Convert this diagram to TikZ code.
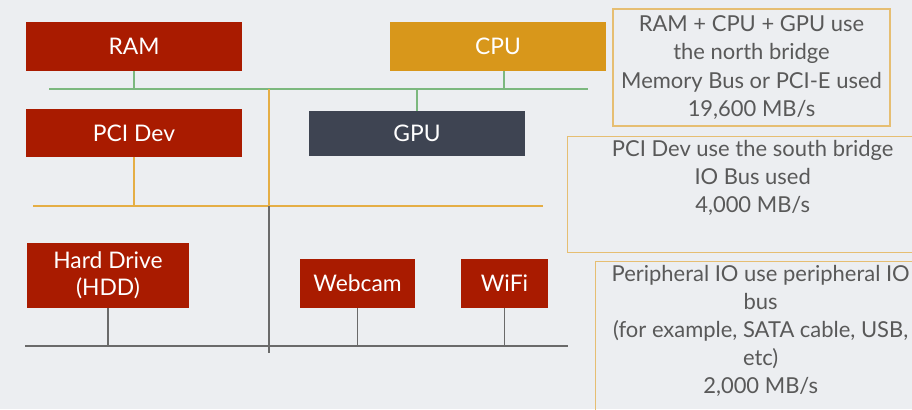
\documentclass[tikz,border=0pt]{standalone}
\usepackage{fontspec}
\setmainfont{Lato}
\usepackage{xcolor}
\usepackage{tikz}
\usetikzlibrary{positioning, calc}

\definecolor{slidebg}{HTML}{ECEEF1}
\definecolor{boxred}{HTML}{A91B00}
\definecolor{cpugold}{HTML}{D8971B}
\definecolor{gpuslate}{HTML}{3E4452}
\definecolor{busgreen}{HTML}{7CB87E}
\definecolor{busorange}{HTML}{E5AE45}
\definecolor{busgray}{HTML}{6A6A6A}
\definecolor{notegold}{HTML}{E6BE72}
\definecolor{notegray}{HTML}{595959}

\begin{document}
\begin{tikzpicture}[
    x=0.02cm, y=-0.02cm,
    box/.style={fill=boxred,text=white,minimum width=4.32cm,
                minimum height=0.98cm,align=center,inner sep=0pt,
                font=\fontsize{13}{15.5}\selectfont},
    northbus/.style={draw=busgreen,line width=1.1pt},
    southbus/.style={draw=busorange,line width=1.1pt},
    periphbus/.style={draw=busgray,line width=1.1pt},
    note/.style={draw=notegold,line width=0.8pt,inner sep=0pt},
    notetext/.style={align=center,text=notegray,inner sep=0pt,
                     font=\fontsize{12.5}{16}\selectfont}
  ]
    \clip (0,0) rectangle (912,409);
    \fill[slidebg] (0,0) rectangle (912,409);

    \node[box] (ram) at (134,46.5) {RAM};
    \node[box,fill=cpugold] (cpu) at (498,46.5) {CPU};
    \node[box,minimum height=0.96cm] (pcidev) at (134,133) {PCI Dev};
    \node[box,fill=gpuslate,minimum height=0.9cm] (gpu) at (417,133.5) {GPU};
    \node[box,minimum width=3.24cm,minimum height=1.3cm] (hdd) at (108,275.5)
      {Hard Drive\\(HDD)};
    \node[box,minimum width=2.3cm] (webcam) at (357.5,283.5) {Webcam};
    \node[box,minimum width=1.74cm] (wifi) at (504.5,283.5) {WiFi};

    \coordinate (nbL) at (49,89);   \coordinate (nbR) at (588,89);
    \coordinate (sbL) at (33,206);  \coordinate (sbR) at (543,206);
    \coordinate (pbL) at (25,346);  \coordinate (pbR) at (568,346);
    \coordinate (nbJ) at (269,89);  \coordinate (sbJ) at (269,206);
    \coordinate (pbJ) at (269,353);

    \draw[northbus] (nbL) -- (nbR);
    \draw[northbus] (ram) -- (ram |- nbL);
    \draw[northbus] ([xshift=0.12cm]cpu.south) -- ([xshift=0.12cm]cpu.south |- nbL);
    \draw[northbus] (gpu) -- (gpu |- nbL);

    \draw[southbus] (sbL) -- (sbR);
    \draw[southbus] (pcidev) -- (pcidev |- sbL);
    \draw[southbus] (nbJ) -- (sbJ);

    \draw[periphbus] (pbL) -- (pbR);
    \draw[periphbus] (sbJ) -- (pbJ);
    \draw[periphbus] (hdd) -- (hdd |- pbL);
    \draw[periphbus] (webcam) -- (webcam |- pbL);
    \draw[periphbus] (wifi) -- (wifi |- pbL);

    \node[note,notetext,minimum width=5.54cm,minimum height=2.34cm] (northnote)
      at (751.5,67.5)
      {RAM + CPU + GPU use\\the north bridge\\Memory Bus or PCI-E used\\19,600 MB/s};

    \node[note,minimum width=7.4cm,minimum height=2.32cm,anchor=north west]
      (southnote) at (567,136) {};
    \node[notetext,below=0.08cm of southnote.north] (southtext)
      {PCI Dev use the south bridge\\IO Bus used\\4,000 MB/s};

    \node[note,minimum width=6.6cm,minimum height=3.6cm,anchor=north west]
      (periphnote) at (595,261) {};
    \node[notetext,below=0.08cm of periphnote.north] (periphtext)
      {Peripheral IO use peripheral IO\\bus\\(for example, SATA cable, USB,\\etc)\\2,000 MB/s};
  \end{tikzpicture}
\end{document}
